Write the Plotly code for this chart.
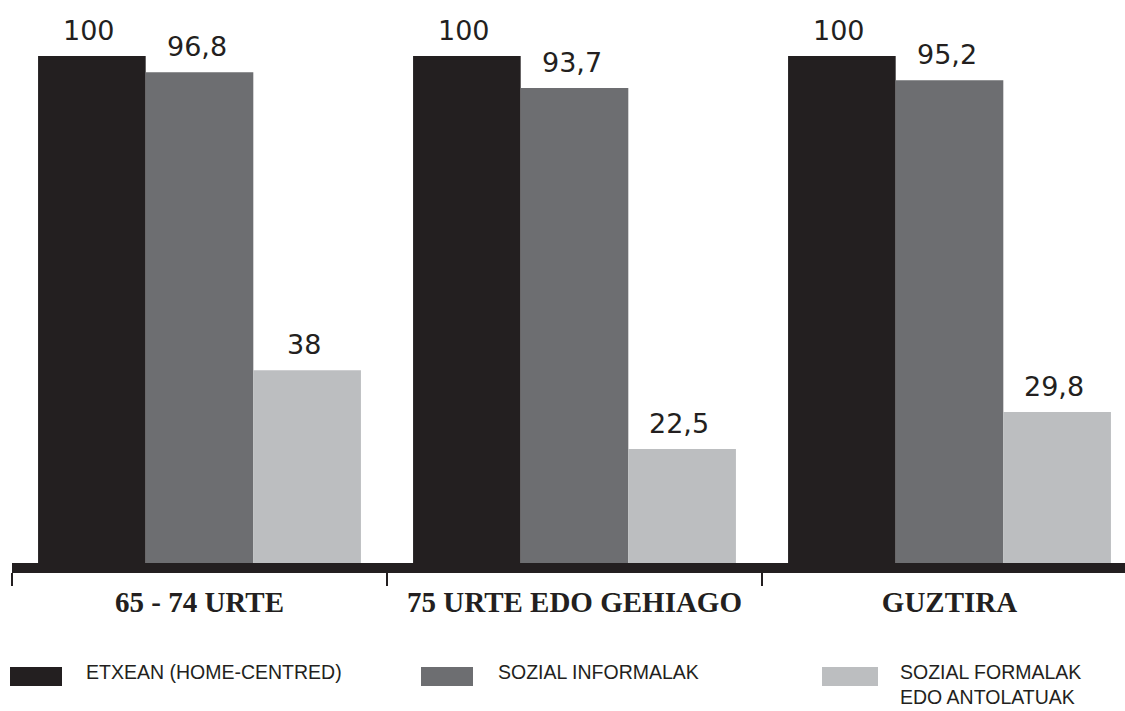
import plotly.graph_objects as go

categories = ["65 - 74 URTE", "75 URTE EDO GEHIAGO", "GUZTIRA"]
series_names = ["ETXEAN (HOME-CENTRED)", "SOZIAL INFORMALAK", "SOZIAL FORMALAK<br>EDO ANTOLATUAK"]
etxean = [100, 100, 100]
informalak = [96.8, 93.7, 95.2]
formalak = [38, 22.5, 29.8]
colors = ["#231f20", "#6d6e71", "#bcbec0"]

series_values = [etxean, informalak, formalak]

W, H = 1125, 711
ML, MR, MT, MB = 12, 0, 0, 148
BARGAP = 0.139
plot_h = H - MT - MB


def fmt(v):
    s = ("%g" % v)
    return s.replace(".", ",")


fig = go.Figure()
for name, vals, col in zip(series_names, series_values, colors):
    fig.add_trace(go.Bar(
        x=categories, y=vals, name=name,
        marker=dict(color=col, line=dict(width=0)),
        showlegend=False,
    ))

# value labels above bars
nser = len(series_values)
bw = (1 - BARGAP) / nser
annotations = []
for j, vals in enumerate(series_values):
    for i, v in enumerate(vals):
        annotations.append(dict(
            x=i + (j - (nser - 1) / 2) * bw, y=v, xref="x", yref="y",
            text=fmt(v), showarrow=False, yanchor="bottom", yshift=8, xshift=-3,
            font=dict(family="DejaVu Sans", size=27, color="#231f20"),
        ))


def py2paper(py):
    return (H - MB - py) / plot_h


def px2paper(px):
    return (px - ML) / (W - ML - MR)


# custom legend
shapes = []
legend_items = [
    (10, 62, 86, series_names[0]),
    (421, 473, 498, series_names[1]),
    (822, 878, 900, series_names[2]),
]
for (x0, x1, tx, label), col in zip(legend_items, colors):
    shapes.append(dict(type="rect", xref="paper", yref="paper",
                       x0=px2paper(x0), x1=px2paper(x1),
                       y0=py2paper(686), y1=py2paper(667),
                       fillcolor=col, line=dict(width=0)))
    annotations.append(dict(
        x=px2paper(tx - 1), y=py2paper(660), xref="paper", yref="paper",
        text=label, showarrow=False, xanchor="left", yanchor="top", align="left",
        borderpad=0,
        font=dict(family="Liberation Sans", size=19.5, color="#231f20"),
    ))

fig.update_layout(
    width=W, height=H,
    margin=dict(l=ML, r=MR, t=MT, b=MB),
    paper_bgcolor="white", plot_bgcolor="white",
    barmode="group", bargap=BARGAP, bargroupgap=0,
    xaxis=dict(
        type="category", range=[-0.5, 2.468],
        showline=True, linewidth=10, linecolor="#231f20",
        ticks="outside", tickson="boundaries", ticklen=13, tickwidth=2,
        tickcolor="#231f20", showgrid=False, zeroline=False,
        ticklabelstandoff=4,
        tickfont=dict(family="Liberation Serif", size=29, color="#231f20", weight="bold"),
    ),
    yaxis=dict(range=[0, 111.05], visible=False, showgrid=False, zeroline=False),
    annotations=annotations,
    shapes=shapes,
    font=dict(family="Liberation Sans"),
)

fig.write_html("out.html", config={"displayModeBar": False},
               post_script="document.body.style.margin='0';document.body.style.overflow='hidden';")
